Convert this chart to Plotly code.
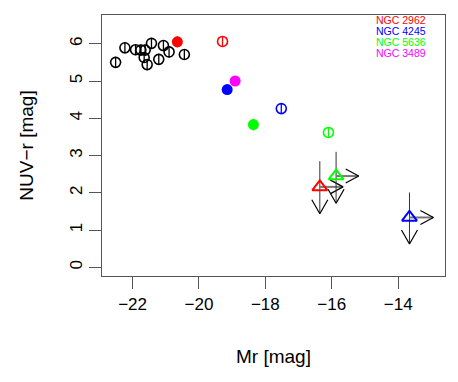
import plotly.graph_objects as go

# black sample (open circles with small error bars)
mr_sample = [-22.51, -22.23, -21.91, -21.75, -21.62, -21.65, -21.56, -21.43, -21.21, -21.07, -20.90, -20.44]
nuvr_sample = [5.50, 5.89, 5.84, 5.83, 5.83, 5.63, 5.44, 6.01, 5.58, 5.95, 5.78, 5.71]
err_sample = [0.15] * 12

# the four galaxies
names = ['NGC 2962', 'NGC 4245', 'NGC 5636', 'NGC 3489']
colors = ['#FF0000', '#0000FF', '#00FF00', '#FF00FF']
# filled circles
mr_fill = [-20.65, -19.15, -18.36, -18.91]
nuvr_fill = [6.05, 4.77, 3.83, 5.00]
err_fill = [0.15, 0.12, 0.16, 0.05]
# open circles
mr_open = [-19.29, -17.52, -16.10]
nuvr_open = [6.06, 4.26, 3.62]
err_open = [0.12, 0.12, 0.12]
# triangles (limits)
mr_lim = [-16.36, -13.66, -15.87]
nuvr_lim = [2.16, 1.34, 2.45]
err_up = [0.69, 0.67, 0.65]
arrow_down = [0.72, 0.71, 0.73]
arrow_right = [0.70, 0.72, 0.68]

xr = [-22.92, -12.59]
yr = [-0.23, 6.77]
# page has an 8px body margin, so the figure is drawn 8px smaller
W, H = 450, 374
ml, mr_, mt, mb = 94, 13, 7, 106
px_x = (W - ml - mr_) / (xr[1] - xr[0])
px_y = (H - mt - mb) / (yr[1] - yr[0])

fig = go.Figure()

fig.add_trace(go.Scatter(x=mr_sample, y=nuvr_sample, mode='markers',
                         error_y=dict(type='data', array=err_sample, color='black', thickness=1.3, width=0),
                         marker=dict(symbol='circle-open', size=10, color='black', line=dict(width=1.6))))

# limit arrows
for i in range(3):
    x0, y0 = mr_lim[i], nuvr_lim[i]
    # vertical line + down arrow
    fig.add_trace(go.Scatter(x=[x0, x0], y=[y0 + err_up[i], y0 - arrow_down[i]], mode='lines',
                             line=dict(color='#333333', width=1)))
    tip = y0 - arrow_down[i]
    hx, hy = 8 / px_x, 14 / px_y
    fig.add_trace(go.Scatter(x=[x0 - hx, x0, x0 + hx], y=[tip + hy, tip, tip + hy], mode='lines',
                             line=dict(color='black', width=1.2)))
    # horizontal arrow
    tx = x0 + arrow_right[i]
    fig.add_trace(go.Scatter(x=[x0, tx], y=[y0, y0], mode='lines',
                             line=dict(color='#777777', width=2)))
    hx, hy = 13 / px_x, 7 / px_y
    fig.add_trace(go.Scatter(x=[tx - hx, tx, tx - hx], y=[y0 + hy, y0, y0 - hy], mode='lines',
                             line=dict(color='black', width=1.2)))

fig.add_trace(go.Scatter(x=mr_lim, y=nuvr_lim, mode='markers',
                         marker=dict(symbol='triangle-up-open', size=13, color=[colors[0], colors[1], colors[2]],
                                     line=dict(width=2))))

for i in range(3):
    fig.add_trace(go.Scatter(x=[mr_open[i]], y=[nuvr_open[i]], mode='markers',
                             error_y=dict(type='data', array=[err_open[i]], color=colors[i], thickness=1.3, width=0),
                             marker=dict(symbol='circle-open', size=10, color=colors[i], line=dict(width=1.6))))
for i in range(4):
    fig.add_trace(go.Scatter(x=[mr_fill[i]], y=[nuvr_fill[i]], mode='markers',
                             error_y=dict(type='data', array=[err_fill[i]], color=colors[i], thickness=1.3, width=0),
                             marker=dict(symbol='circle', size=11, color=colors[i])))

plot_h = H - mt - mb
for i, n in enumerate(names):
    fig.add_annotation(text=n, xref='paper', yref='paper', x=0.794,
                       y=(plot_h - (12 + 11 * i) + mt) / plot_h,
                       xanchor='left', yanchor='middle', showarrow=False,
                       font=dict(size=10.5, color=colors[i]))

axis_common = dict(showline=True, linecolor='#555555', linewidth=1.3, mirror=True,
                   ticks='outside', ticklen=12, tickcolor='#555555', tickwidth=1,
                   showgrid=False, zeroline=False, tickfont=dict(size=17, color='black'))
fig.update_xaxes(range=xr, tickvals=[-22, -20, -18, -16, -14],
                 title=dict(text='Mr [mag]', font=dict(size=19), standoff=37), **axis_common)
fig.update_yaxes(range=yr, tickvals=[0, 1, 2, 3, 4, 5, 6], tickangle=-90,
                 title=dict(text='NUV\u2212r [mag]', font=dict(size=19), standoff=28), **axis_common)
fig.update_layout(width=W, height=H, margin=dict(l=ml, r=mr_, t=mt, b=mb), showlegend=False,
                  plot_bgcolor='white', paper_bgcolor='white',
                  font=dict(family='Liberation Sans, Arial, sans-serif', color='black'))
fig.write_html("out.html")
